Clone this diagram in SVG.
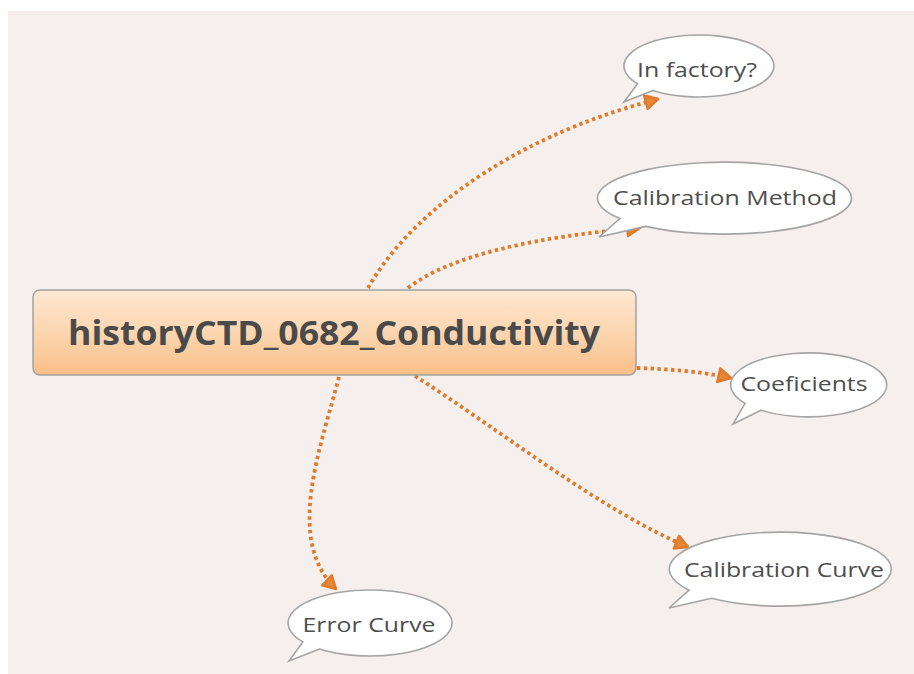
<svg xmlns="http://www.w3.org/2000/svg" width="914" height="674" viewBox="0 0 914 674">
<defs>
<linearGradient id="central" x1="0" y1="0" x2="0" y2="1">
<stop offset="0" stop-color="#fde7d2"/>
<stop offset="0.5" stop-color="#fcd6b0"/>
<stop offset="1" stop-color="#f9bf88"/>
</linearGradient>
<marker id="arrow" markerUnits="userSpaceOnUse" markerWidth="20" markerHeight="20" viewBox="-12 -8 16 16" refX="0" refY="0" orient="auto">
<path d="M -10 -5.5 L 0 0 L -10 5.5 Z" fill="#e58838" stroke="#e07b2c" stroke-width="2" stroke-linejoin="round"/>
</marker>
</defs>
<style>
.bg{fill:#f5f0ee}
.bubble{fill:#ffffff;stroke:#a5a5a5;stroke-width:1.6}
.btext{font-family:"Open Sans","Noto Sans","Liberation Sans",sans-serif;font-size:20px;fill:#4e4e4e;text-anchor:middle}
.ctext{font-family:"Open Sans","Noto Sans","Liberation Sans",sans-serif;font-size:34px;font-weight:bold;fill:#4a4a4a;text-anchor:middle}
.conn{fill:none;stroke:#e07b2c;stroke-width:3.8;stroke-dasharray:3.4 3.4;marker-end:url(#arrow)}
</style>
<rect x="0" y="0" width="914" height="674" fill="#ffffff"/>
<rect class="bg" x="8" y="11" width="906" height="663"/>
<g id="connectors">
<path class="conn" d="M 368 288 C 405 222, 500 140, 658 99"/>
<path class="conn" d="M 408 288 C 450 255, 540 236, 640 228"/>
<path class="conn" d="M 637 368 C 670 369, 705 372, 731 378"/>
<path class="conn" d="M 415 376 C 500 430, 600 510, 688 547"/>
<path class="conn" d="M 339 377 C 320 450, 285 540, 336 589"/>
</g>
<g id="central">
<rect x="33" y="290" width="603" height="85" rx="7" fill="url(#central)" stroke="#a3a3a3" stroke-width="1.5"/>
<text class="ctext" x="334" y="345" textLength="532" lengthAdjust="spacingAndGlyphs">historyCTD_0682_Conductivity</text>
</g>
<g id="in-factory">
<path class="bubble" d="M 652.8 90.4 L 624 102 L 637.6 83.8 A 75 31 0 1 1 652.8 90.4 Z"/>
<text class="btext" x="697" y="77" textLength="120" lengthAdjust="spacingAndGlyphs">In factory?</text>
</g>
<g id="calibration-method">
<path class="bubble" d="M 645.8 226.4 L 599 237 L 620 218.6 A 127 36 0 1 1 645.8 226.4 Z"/>
<text class="btext" x="725" y="205" textLength="224" lengthAdjust="spacingAndGlyphs">Calibration Method</text>
</g>
<g id="coeficients">
<path class="bubble" d="M 761 410.2 L 733 424 L 745.1 403.4 A 78 32 0 1 1 761 410.2 Z"/>
<text class="btext" x="804" y="391" textLength="127" lengthAdjust="spacingAndGlyphs">Coeficients</text>
</g>
<g id="calibration-curve">
<path class="bubble" d="M 711.7 598.2 L 669 608 L 689.1 590.2 A 111 37 0 1 1 711.7 598.2 Z"/>
<text class="btext" x="784" y="577" textLength="200" lengthAdjust="spacingAndGlyphs">Calibration Curve</text>
</g>
<g id="error-curve">
<path class="bubble" d="M 319.5 649 L 289 661 L 302.8 641.9 A 82 33 0 1 1 319.5 649 Z"/>
<text class="btext" x="369" y="632" textLength="133" lengthAdjust="spacingAndGlyphs">Error Curve</text>
</g>
</svg>
